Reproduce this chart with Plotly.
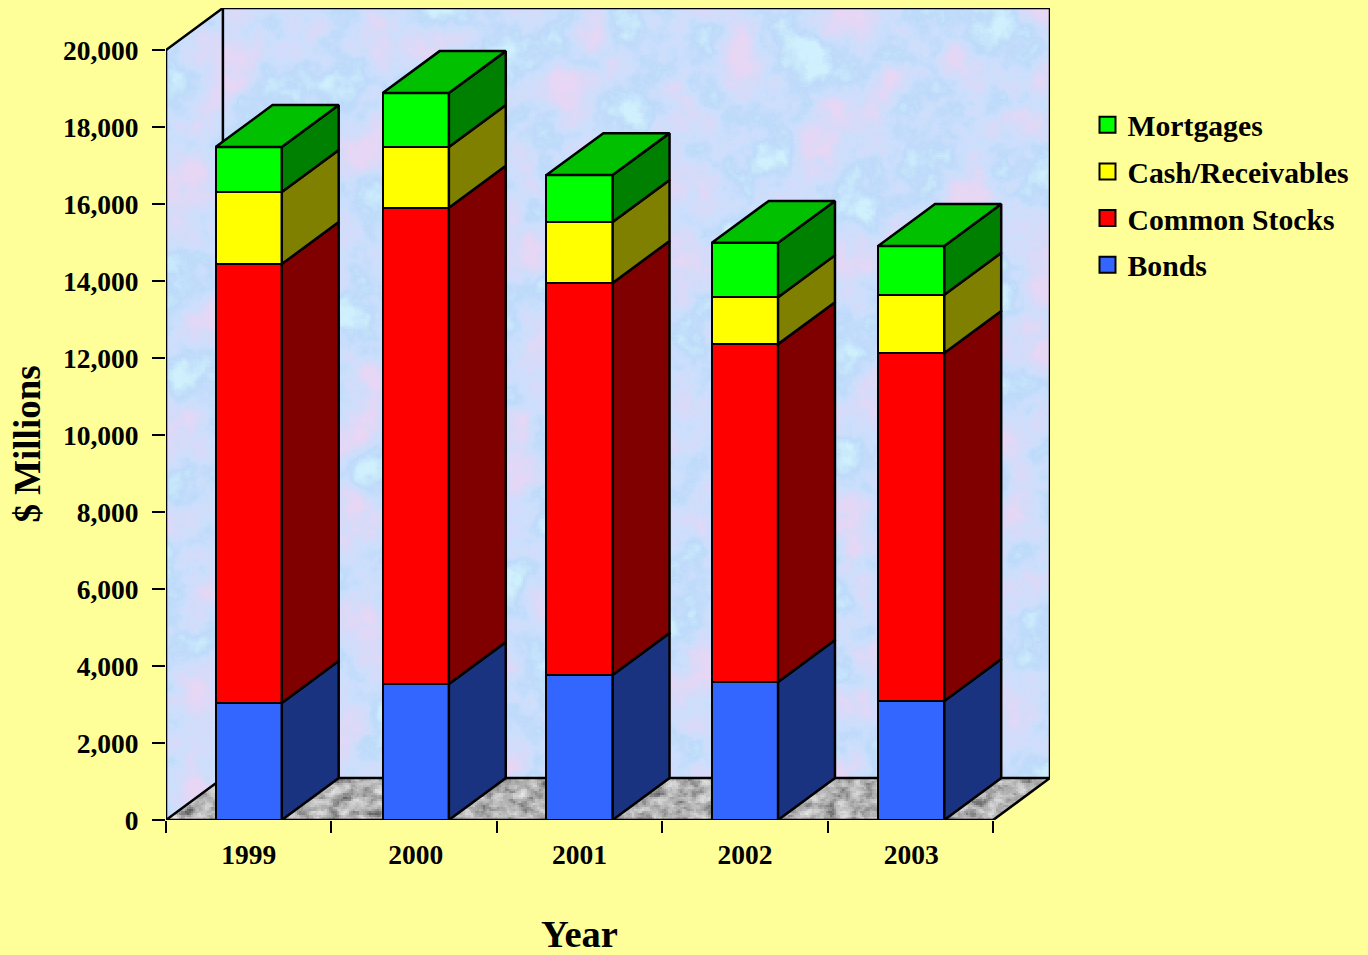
import numpy as np
import plotly.graph_objects as go

# Chart data ($ millions)
years = ["1999", "2000", "2001", "2002", "2003"]
bar_positions = [0.5, 1.51, 2.5, 3.5, 4.505]
bonds = [3040, 3530, 3766, 3584, 3090]
common_stocks = [11400, 12370, 10184, 8776, 9040]
cash_receivables = [1870, 1580, 1580, 1220, 1510]
mortgages = [1170, 1400, 1220, 1410, 1270]

series = [
    ("Bonds", bonds, "#3366FF", "#1A3380"),
    ("Common Stocks", common_stocks, "#FF0000", "#800000"),
    ("Cash/Receivables", cash_receivables, "#FFFF00", "#808000"),
    ("Mortgages", mortgages, "#00FF00", "#008000"),
]
TOP_FACE = "#00C000"
PAPER = "#FFFF99"
FONT = "Liberation Serif"

# Oblique projection of the depth axis, in data units
DEPTH_X = 0.344
DEPTH_Y = 1090
BAR_WIDTH = 0.4
Y_MAX = 20000
N_CATS = 5
LINE = dict(color="black", width=2.5)

# Plot area in pixels
LEFT, RIGHT, TOP, BOTTOM = 166, 1050, 8, 820
PLOT_W, PLOT_H = RIGHT - LEFT, BOTTOM - TOP


def mottle(x, y, terms, base_scale):
    """Deterministic cloudy pattern built from rotated sine waves."""
    out = np.zeros_like(x)
    for k in range(terms):
        angle = k * 2.399963
        scale = base_scale * 0.88 ** k
        u = x * np.cos(angle) + y * np.sin(angle)
        v = -x * np.sin(angle) + y * np.cos(angle)
        out += (0.9 ** k) * np.sin(u / scale + 1.7 * np.sin(v / (scale * 1.7) + k) + k * 1.3)
    return out


# Work on a grid of roughly 2 px cells; 165.6 px per category, 0.0385 px per unit
gx = np.arange(0, N_CATS + DEPTH_X, 2 / 165.6)
gy = np.arange(0, Y_MAX + DEPTH_Y, 2 / 0.0385)
X, Y = np.meshgrid(gx, gy)
px_x, px_y = X * 165.6, Y * 0.0385

wall = mottle(px_x, px_y, 30, 26.0)
wall_lo, wall_hi = wall.mean() - 2.3 * wall.std(), wall.mean() + 2.3 * wall.std()
back = X >= DEPTH_X
back_mask = back & (Y >= DEPTH_Y)
side_mask = (~back) & (Y >= X / DEPTH_X * DEPTH_Y) & (Y <= Y_MAX + X / DEPTH_X * DEPTH_Y)
wall_z = np.where(back_mask | side_mask, wall, np.nan)

floor_x = X - Y / DEPTH_Y * DEPTH_X
floor_mask = (Y <= DEPTH_Y) & (floor_x >= 0) & (floor_x <= N_CATS)
floor_z = np.where(floor_mask, mottle(px_x, px_y * 1.5, 22, 6.0), np.nan)

fig = go.Figure()

# Back wall, side wall and floor textures on the base axes
fig.add_trace(go.Heatmap(
    x=gx, y=gy, z=wall_z, zmin=wall_lo, zmax=wall_hi, showscale=False, hoverinfo="skip",
    colorscale=[[0, "#CFF0FC"], [0.3, "#BEDAFA"], [0.5, "#CBDFFC"], [0.72, "#D5DBF9"], [1, "#E8D6F5"]],
))
fig.add_trace(go.Heatmap(
    x=gx, y=gy, z=floor_z, showscale=False, hoverinfo="skip",
    colorscale=[[0, "#5A5A5A"], [0.4, "#A8A8A8"], [0.7, "#CFCFCF"], [1, "#EAEAEA"]],
))

# Frame of the box
frame_x = [
    0, 0, None, 0, DEPTH_X, N_CATS + DEPTH_X, N_CATS + DEPTH_X, None,
    DEPTH_X, DEPTH_X, None, 0, DEPTH_X, N_CATS + DEPTH_X, N_CATS, None, 0, N_CATS,
]
frame_y = [
    0, Y_MAX, None, Y_MAX, Y_MAX + DEPTH_Y, Y_MAX + DEPTH_Y, DEPTH_Y, None,
    Y_MAX + DEPTH_Y, DEPTH_Y, None, 0, DEPTH_Y, DEPTH_Y, 0, None, 0, 0,
]
fig.add_trace(go.Scatter(
    x=frame_x, y=frame_y, mode="lines", line=LINE, hoverinfo="skip",
    showlegend=False, cliponaxis=False,
))

# Front faces of the stacked columns
for name, values, front, _ in series:
    fig.add_trace(go.Bar(
        x=bar_positions, y=values, name=name, width=BAR_WIDTH, xaxis="x2", yaxis="y2",
        marker=dict(color=front, line=LINE), showlegend=False,
    ))

# Side faces of every segment and the top cap of every column
stack_top = [0] * len(years)
for name, values, _, side in series:
    for i, value in enumerate(values):
        lo = stack_top[i]
        hi = lo + value
        xr = bar_positions[i] + BAR_WIDTH / 2
        fig.add_trace(go.Scatter(
            x=[xr, xr + DEPTH_X, xr + DEPTH_X, xr, xr],
            y=[lo, lo + DEPTH_Y, hi + DEPTH_Y, hi, lo],
            mode="lines", fill="toself", fillcolor=side, line=LINE, xaxis="x2", yaxis="y2",
            hoverinfo="skip", showlegend=False, cliponaxis=False,
        ))
        stack_top[i] = hi

for i, total in enumerate(stack_top):
    xl = bar_positions[i] - BAR_WIDTH / 2
    xr = bar_positions[i] + BAR_WIDTH / 2
    fig.add_trace(go.Scatter(
        x=[xl, xr, xr + DEPTH_X, xl + DEPTH_X, xl],
        y=[total, total, total + DEPTH_Y, total + DEPTH_Y, total],
        mode="lines", fill="toself", fillcolor=TOP_FACE, line=LINE, xaxis="x2", yaxis="y2",
        hoverinfo="skip", showlegend=False, cliponaxis=False,
    ))

# Legend keys, top of the stack first
for name, _, front, _ in reversed(series):
    fig.add_trace(go.Scatter(
        x=[None], y=[None], name=name, legendgroup=name, mode="markers", xaxis="x2", yaxis="y2",
        marker=dict(symbol="square", size=16, color=front, line=dict(color="black", width=2)),
    ))

x_range = [0, N_CATS + DEPTH_X]
y_range = [0, Y_MAX + DEPTH_Y]
tick_font = dict(size=27.5, family=FONT, weight="bold")
fig.update_layout(
    width=1368, height=955,
    margin=dict(l=LEFT, r=1368 - RIGHT, t=TOP, b=955 - BOTTOM, autoexpand=False),
    paper_bgcolor=PAPER, plot_bgcolor=PAPER,
    font=dict(family=FONT, color="black"),
    barmode="stack", bargap=0, hovermode=False,
    xaxis=dict(
        range=x_range, tickmode="array", tickvals=list(range(N_CATS + 1)), ticktext=[""] * (N_CATS + 1),
        ticks="outside", ticklen=12, tickwidth=2, tickcolor="black", showgrid=False, zeroline=False, showline=False,
    ),
    yaxis=dict(
        range=y_range, tickmode="array", tickvals=list(range(0, Y_MAX + 1, 2000)), tickformat=",d",
        ticks="outside", ticklen=13, tickwidth=2, tickcolor="black", showgrid=False, zeroline=False, showline=False,
        tickfont=tick_font, ticklabelstandoff=8,
    ),
    xaxis2=dict(
        overlaying="x", range=x_range, tickmode="array", tickvals=bar_positions, ticktext=years, anchor="y2",
        ticks="", showgrid=False, zeroline=False, showline=False,
        tickfont=tick_font, ticklabelstandoff=15,
    ),
    yaxis2=dict(overlaying="y", range=y_range, visible=False, anchor="x2"),
    legend=dict(
        x=(1087.5 - LEFT) / PLOT_W, y=(BOTTOM - 99) / PLOT_H, xanchor="left", yanchor="top",
        bgcolor="rgba(0,0,0,0)", font=dict(size=29.7, family=FONT, weight="bold"), tracegroupgap=5,
    ),
    annotations=[
        dict(text="<b>Year</b>", xref="x", yref="paper", x=2.5, y=(BOTTOM - 934) / PLOT_H,
             xanchor="center", yanchor="middle", showarrow=False, font=dict(size=38.5, family=FONT)),
        dict(text="<b>$ Millions</b>", xref="paper", yref="y", x=(28 - LEFT) / PLOT_W, y=9750, textangle=-90,
             xanchor="center", yanchor="middle", showarrow=False, font=dict(size=37, family=FONT)),
    ],
)

fig.write_html("out.html")
